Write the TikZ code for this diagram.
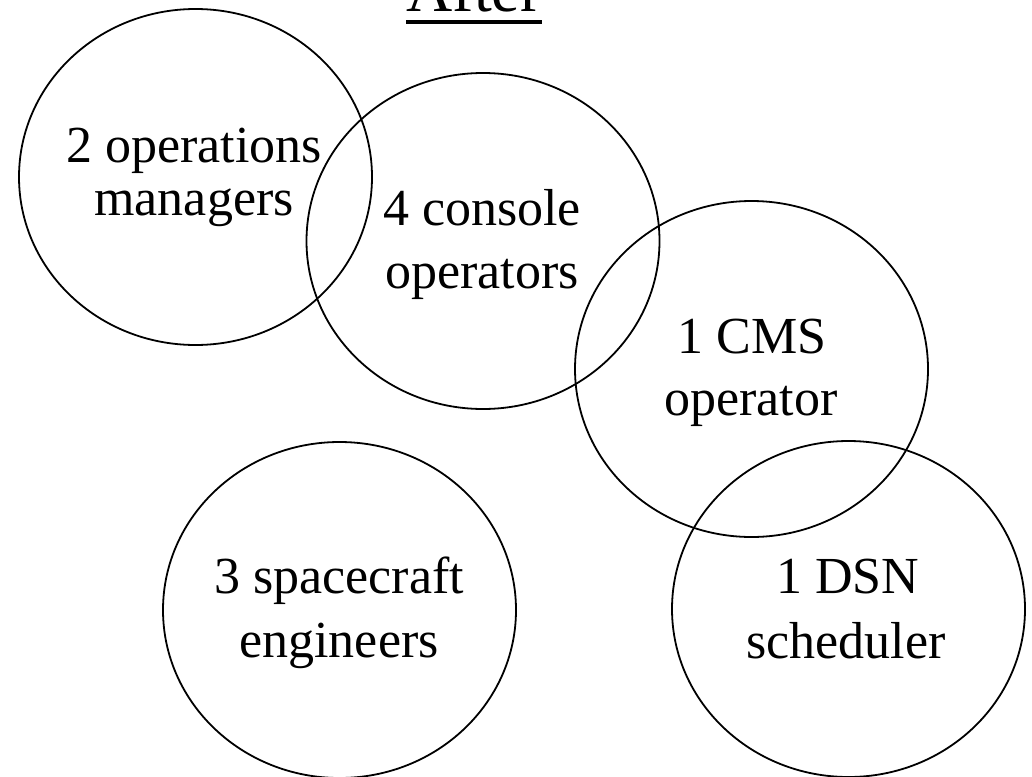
\documentclass[tikz,border=0pt]{standalone}
\usepackage{fontspec}
\setmainfont{Liberation Serif}
\usetikzlibrary{shapes.geometric}

\tikzset{
  team/.style={draw,ellipse,line width=1.8pt,minimum width=353pt,minimum height=336pt,inner sep=0pt},
  word/.style={anchor=base,inner sep=0pt,font=\fontsize{52}{60}\selectfont}
}

\begin{document}
\begin{tikzpicture}[x=1pt,y=-1pt]
  \useasboundingbox (0,0) rectangle (1032,776);
  % title
  \node[anchor=base,inner sep=0pt,font=\fontsize{64}{70}\selectfont] (title) at (474,12) {After};
  \draw[line width=4pt] ([yshift=-10pt]title.base west) -- ([yshift=-10pt]title.base east);

  % the teams
  \node[team] (ops) at (195.5,177) {};
  \node[team] (con) at (483,241) {};
  \node[team] (cms) at (751.5,369) {};
  \node[team] (eng) at (339.5,610) {};
  \node[team] (dsn) at (848.5,609) {};

  \node[word] (opsA) at (194,162) {2 operations};
  \node[word] (opsB) at (194,215) {managers};
  \node[word] (conA) at (482,225) {4 console};
  \node[word] (conB) at (482,288) {operators};
  \node[word] (cmsA) at (752,353) {1 CMS};
  \node[word] (cmsB) at (751,415) {operator};
  \node[word] (engA) at (339,593) {3 spacecraft};
  \node[word] (engB) at (339,657) {engineers};
  \node[word] (dsnA) at (847.5,593) {1 DSN};
  \node[word] (dsnB) at (846,658) {scheduler};
\end{tikzpicture}
\end{document}
